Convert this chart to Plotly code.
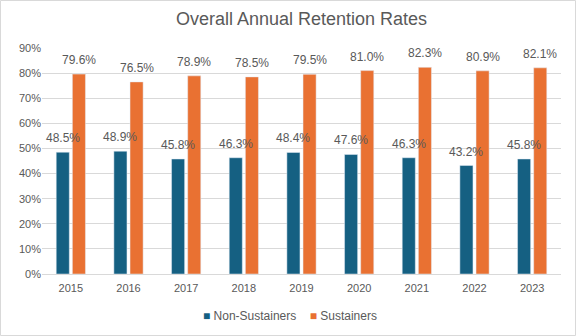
import plotly.graph_objects as go

years = ["2015", "2016", "2017", "2018", "2019", "2020", "2021", "2022", "2023"]
non_sustainers = [48.5, 48.9, 45.8, 46.3, 48.4, 47.6, 46.3, 43.2, 45.8]
sustainers = [79.6, 76.5, 78.9, 78.5, 79.5, 81.0, 82.3, 80.9, 82.1]

BLUE = "#156082"
ORANGE = "#E97132"
TEXT = "#595959"
FONT = "Liberation Sans, Arial, sans-serif"

W, H = 576, 336
ML, MR, MT, MB = 42, 15, 48, 62
PW, PH = W - ML - MR, H - MT - MB
BARGAP, GROUPGAP = 0.44, 0.19
# horizontal offset of each bar's centre from its category centre (px)
slot = (1 - BARGAP) * (PW / len(years)) / 2
offsets = [-slot / 2, slot / 2]
pos = list(range(len(years)))

fig = go.Figure()
series = [("Non-Sustainers", non_sustainers, BLUE),
          ("Sustainers", sustainers, ORANGE)]
for (name, vals, color), dx in zip(series, offsets):
    fig.add_trace(go.Bar(x=pos, y=vals, name=name, marker_color=color,
                         showlegend=False))
    # value labels sitting a little above each bar
    for i, v in zip(pos, vals):
        fig.add_annotation(x=i, y=v, xref="x", yref="y", text=f"{v:.1f}%",
                           showarrow=False, xanchor="center", yanchor="bottom",
                           xshift=dx, yshift=5,
                           font=dict(size=12, color=TEXT, family=FONT))

# chart border
fig.add_shape(type="rect", xref="paper", yref="paper",
              x0=(0.5 - ML) / PW, x1=(W - 0.5 - ML) / PW,
              y0=-(MB - 0.5) / PH, y1=1 + (MT - 0.5) / PH,
              line=dict(color="#D9D9D9", width=1), fillcolor="rgba(0,0,0,0)")

# compact legend row below the axis
legend_text = (f"<span style='color:{BLUE}'>■</span> Non-Sustainers"
               f"&nbsp;&nbsp;&nbsp;&nbsp;<span style='color:{ORANGE}'>■</span> Sustainers")
fig.add_annotation(text=legend_text, xref="paper", yref="paper",
                   x=(290 - ML) / PW, y=-(42 / PH), xanchor="center",
                   yanchor="middle", showarrow=False,
                   font=dict(size=12, color=TEXT, family=FONT))

fig.update_layout(
    width=W, height=H,
    margin=dict(l=ML, r=MR, t=MT, b=MB),
    paper_bgcolor="white", plot_bgcolor="white",
    font=dict(family=FONT, color=TEXT, size=11),
    title=dict(text="Overall Annual Retention Rates", x=0.5, xref="paper",
               xanchor="center", y=1 - 19 / H, yanchor="middle",
               font=dict(size=18, color=TEXT, family=FONT)),
    barmode="group", bargap=BARGAP, bargroupgap=GROUPGAP,
    xaxis=dict(range=[-0.5, len(years) - 0.5], tickmode="array",
               tickvals=pos, ticktext=years, showgrid=False, zeroline=False,
               showline=True, linecolor="#D9D9D9", ticks="outside", ticklen=4,
               tickcolor="rgba(0,0,0,0)", tickfont=dict(size=11, color=TEXT)),
    yaxis=dict(range=[0, 90], dtick=10, ticksuffix="%", showgrid=True,
               gridcolor="#D9D9D9", gridwidth=1, zeroline=False,
               showline=False, tickfont=dict(size=11, color=TEXT)),
)

fig.write_html("out.html")
